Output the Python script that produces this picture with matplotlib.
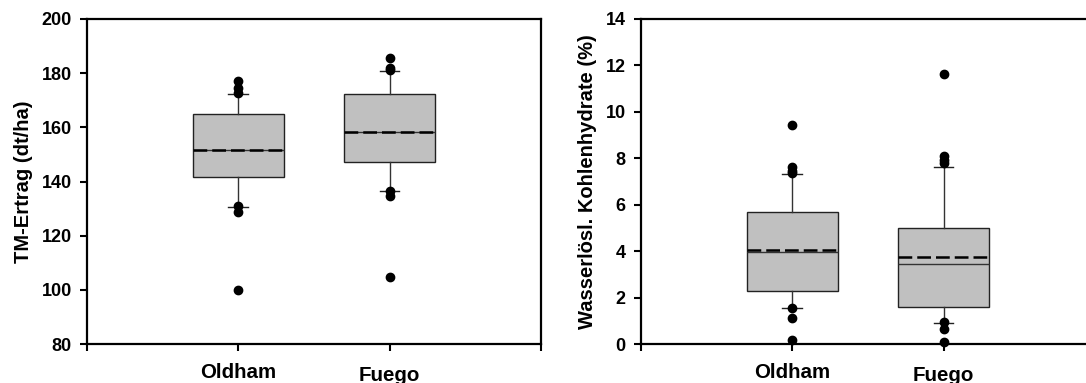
import matplotlib
matplotlib.use("Agg")
import matplotlib.pyplot as plt
import matplotlib.transforms as mtransforms

plt.rcParams['font.family'] = ['Liberation Sans', 'DejaVu Sans']
plt.rcParams['font.weight'] = 'bold'

# Sorten
sorten = ["Oldham", "Fuego"]

# TM-Ertrag (dt/ha)
ertrag_q1 = [141.7, 147.2]
ertrag_q3 = [164.9, 172.2]
ertrag_median = [151.5, 158.3]
ertrag_mean = [151.5, 158.3]
ertrag_whislo = [130.7, 136.6]
ertrag_whishi = [172.4, 180.8]
ertrag_fliers = [[177.1, 174.4, 172.6, 130.8, 128.9, 100.0],
                 [185.5, 182.0, 181.0, 136.6, 134.6, 104.6]]

# Wasserlösl. Kohlenhydrate (%)
wsk_q1 = [2.27, 1.58]
wsk_q3 = [5.68, 5.01]
wsk_median = [3.98, 3.46]
wsk_mean = [4.05, 3.73]
wsk_whislo = [1.55, 0.92]
wsk_whishi = [7.31, 7.61]
wsk_fliers = [[9.42, 7.62, 7.46, 7.36, 1.55, 1.12, 0.17],
              [11.62, 8.10, 7.92, 7.78, 0.96, 0.63, 0.07]]


def make_stats(q1, q3, med, mean, lo, hi, fliers):
    stats = []
    for i in range(len(sorten)):
        stats.append(dict(q1=q1[i], q3=q3[i], med=med[i], mean=mean[i],
                          whislo=lo[i], whishi=hi[i], fliers=fliers[i]))
    return stats


def draw_panel(ax, stats, ylim, yticks, ylabel):
    ax.bxp(stats, positions=[1, 2], widths=0.6, capwidths=0.13,
           patch_artist=True, showmeans=True, meanline=True,
           boxprops=dict(facecolor='#c0c0c0', edgecolor='#222222', linewidth=1),
           medianprops=dict(color='#333333', linewidth=1),
           meanprops=dict(color='black', linewidth=1.8, linestyle=(0, (5.5, 2))),
           whiskerprops=dict(color='#333333', linewidth=1),
           capprops=dict(color='#222222', linewidth=1),
           flierprops=dict(marker='o', markerfacecolor='black',
                           markeredgecolor='black', markersize=6, clip_on=False))
    ax.set_xlim(0, 3)
    ax.set_ylim(*ylim)
    ax.set_yticks(yticks)
    ax.set_xticks([0, 1, 2, 3])
    ax.set_xticklabels(['', sorten[0], sorten[1], ''], fontsize=14.8, fontweight='bold')
    for lab in ax.get_yticklabels():
        lab.set_fontsize(13)
        lab.set_fontweight('bold')
    ax.tick_params(axis='y', direction='out', length=5, width=1.5, pad=6)
    ax.tick_params(axis='x', direction='out', length=5, width=1.5, pad=9)
    for sp in ax.spines.values():
        sp.set_linewidth(1.6)
    ax.set_ylabel(ylabel, fontsize=14.5, fontweight='bold', labelpad=6)
    # Fuego-Beschriftung etwas tiefer wie im Original
    off = mtransforms.ScaledTranslation(0, -3 / 100, ax.figure.dpi_scale_trans)
    lab = ax.get_xticklabels()[2]
    lab.set_transform(lab.get_transform() + off)


fig = plt.figure(figsize=(10.86, 3.83), dpi=100)
ax1 = fig.add_axes([0.0801, 0.1018, 0.418, 0.8486])
ax2 = fig.add_axes([0.5902, 0.1018, 0.418, 0.8486])

draw_panel(ax1, make_stats(ertrag_q1, ertrag_q3, ertrag_median, ertrag_mean,
                           ertrag_whislo, ertrag_whishi, ertrag_fliers),
           (80, 200), range(80, 201, 20), "TM-Ertrag (dt/ha)")
draw_panel(ax2, make_stats(wsk_q1, wsk_q3, wsk_median, wsk_mean,
                           wsk_whislo, wsk_whishi, wsk_fliers),
           (0, 14), range(0, 15, 2), "Wasserlösl. Kohlenhydrate (%)")

fig.savefig("out.png", dpi=100)
